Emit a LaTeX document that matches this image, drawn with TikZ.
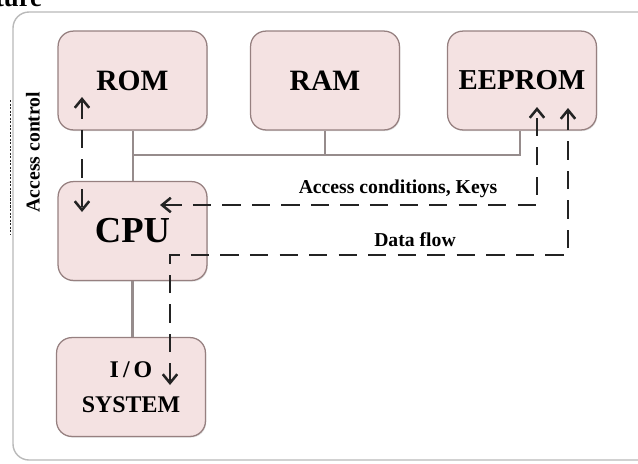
\documentclass[tikz,border=0pt]{standalone}
\usepackage{fontspec}
\setmainfont{Liberation Serif}
\usetikzlibrary{arrows.meta,shadows}
\definecolor{boxfill}{RGB}{244,226,226}
\definecolor{boxline}{RGB}{150,128,128}
\definecolor{busgray}{RGB}{150,140,140}
\definecolor{framegray}{RGB}{185,185,185}
\definecolor{flowgray}{RGB}{35,35,35}
\tikzset{
  unit/.style={draw=boxline, line width=0.9pt, fill=boxfill, rounded corners=0.38cm,
    minimum width=3.72cm, minimum height=2.47cm, inner sep=0pt, align=center,
    drop shadow={shadow xshift=0.6pt, shadow yshift=-0.8pt, opacity=0.25}},
  bus/.style={busgray, line width=1.6pt},
  flow/.style={flowgray, line width=1.8pt, dash pattern=on 13pt off 8pt,
    {Straight Barb[length=2.2mm,width=3.6mm]}-{Straight Barb[length=2.2mm,width=3.6mm]}},
  tag/.style={font=\bfseries\fontsize{14}{16}\selectfont}
}
\begin{document}
\begin{tikzpicture}[x=0.025cm, y=-0.025cm]
    \useasboundingbox (0,0) rectangle (638,463);

    % Outer frame and cut heading
    \draw[framegray, line width=1pt, rounded corners=0.4cm] (650,12) -- (13,12) -- (13,460) -- (650,460);
    \node[anchor=base east, font=\bfseries\fontsize{19}{22}\selectfont] (head) at (47,6) {ture};

    % Side label
    \node[rotate=90, tag] (access) at (33,152) {Access control};
    \draw[flowgray, line width=0.5pt, dash pattern=on 1.5pt off 1pt] (10,100) -- (10,235);

    % Units
    \node[unit, font=\bfseries\fontsize{21}{24}\selectfont] (rom) at (132.5,80.5) {ROM};
    \node[unit, font=\bfseries\fontsize{21}{24}\selectfont] (ram) at (325,80.5) {RAM};
    \node[unit, font=\bfseries\fontsize{20.5}{24}\selectfont] (eeprom) at (522,80.5) {EEPROM};
    \node[unit, font=\bfseries\fontsize{26}{30}\selectfont] (cpu) at (132.5,231) {CPU};
    \node[unit, font=\bfseries\fontsize{17}{25}\selectfont] (io) at (131,387) {I\,/\,O\\SYSTEM};

    % Bus
    \coordinate (busL) at (133,155);
    \coordinate (busR) at (520,155);
    \draw[bus] (rom.south -| busL) -- (cpu.north -| busL);
    \draw[bus] (busL) -- (busR) -- (eeprom.south -| busR);
    \draw[bus] (ram.south) -- (ram.south |- busL);
    \draw[bus] (cpu.south) -- (cpu.south |- io.north);

    % Dashed flows
    \coordinate (romA) at (82,97);
    \coordinate (cpuA) at (82,212);
    \coordinate (cpuK) at (160,205);
    \coordinate (eepK) at (537,107);
    \coordinate (ioD) at (170,385);
    \coordinate (eepD) at (568,108);
    \draw[flow] (romA) -- (cpuA);
    \draw[flow] (cpuK) -- (cpuK -| eepK) -- (eepK);
    \draw[flow] (ioD) -- (170,255) -- (eepD |- 0,255) -- (eepD);

    % Flow labels
    \node[tag] (keys) at (398,189) {Access conditions, Keys};
    \node[tag] (data) at (415,240) {Data flow};
\end{tikzpicture}
\end{document}
